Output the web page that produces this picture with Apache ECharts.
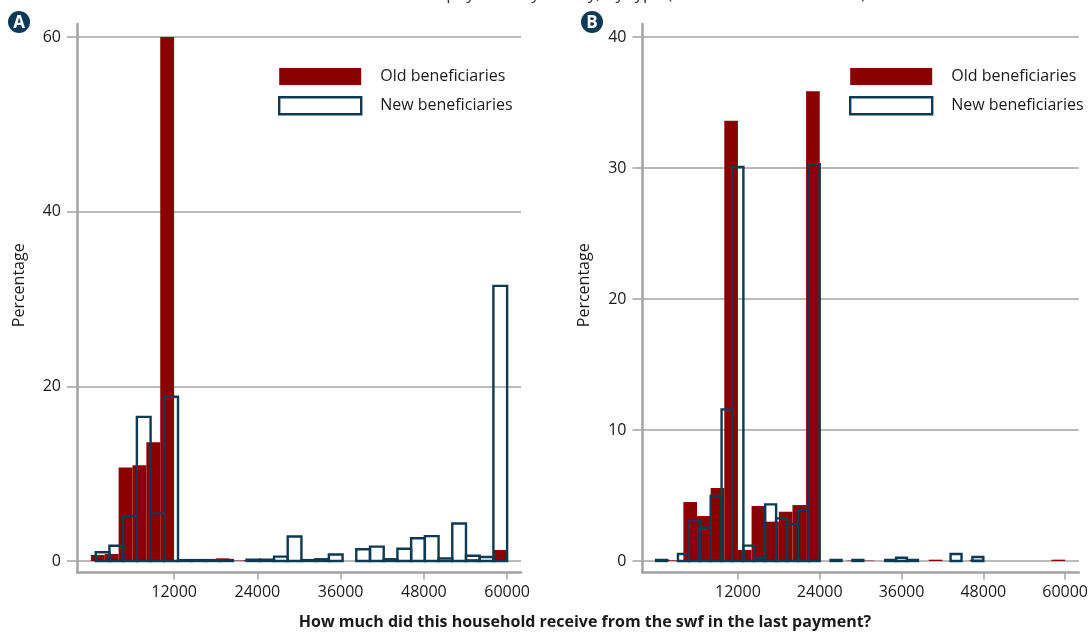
<!DOCTYPE html>
<html><head><meta charset="utf-8">
<script src="https://cdn.jsdelivr.net/npm/echarts@6/dist/echarts.min.js"></script>
<style>html,body{margin:0;padding:0;background:#fff}#c{width:1091px;height:632px}</style>
</head><body><div id="c"></div>
<script>
// ---------- data ----------
const seriesNames = ['Old beneficiaries', 'New beneficiaries'];
const panelLabels = ['A', 'B'];
const xTickValues = [12000, 24000, 36000, 48000, 60000];
const yTicksA = [0, 20, 40, 60];
const yTicksB = [0, 10, 20, 30, 40];
const xAxisTitle = 'How much did this household receive from the swf in the last payment?';
const yAxisTitle = 'Percentage';
const topTitle = 'Amount received in the last payment by survey, by type (old vs new beneficiaries)';

// histogram bins (start value, bin width) for each distribution
const oldBinsA = [0, 2000];
const newBinsA = [700, 1976.67];
const oldBinsB = [0, 2000];
const newBinsB = [0, 1600];

// bin heights (percentage)
const oldA = [0.7, 0.8, 10.7, 10.96, 13.6, 60, 0.05, 0.05, 0.05, 0.3, 0.05, 0.1, 0, 0, 0, 0, 0, 0, 0, 0, 0, 0, 0, 0, 0, 0, 0, 0.2, 0, 1.26];
const newA = [1.0, 1.75, 5.15, 16.5, 5.45, 18.8, 0.1, 0.1, 0.1, 0.1, 0, 0.15, 0.15, 0.5, 2.8, 0.1, 0.2, 0.75, 0, 1.35, 1.65, 0.2, 1.4, 2.6, 2.85, 0.3, 4.3, 0.6, 0.45, 31.5];
const oldB = [0.1, 0.05, 4.5, 3.43, 5.57, 33.6, 0.84, 4.2, 3.0, 3.76, 4.27, 35.85, 0, 0, 0.03, 0.03, 0, 0, 0, 0, 0.1, 0, 0, 0.1, 0, 0, 0, 0, 0, 0.1];
const newB = [0.08, 0, 0.53, 3.05, 2.54, 4.96, 11.57, 30.08, 1.17, 0.25, 4.32, 3.25, 2.82, 3.89, 30.28, 0, 0.08, 0, 0.08, 0, 0, 0.08, 0.25, 0.08, 0, 0, 0, 0.53, 0, 0.3];

// ---------- styles ----------
const FONT = '"Open Sans", "Noto Sans", sans-serif';
const RED = '#8b0000';
const NAVY = '#0f3a52';
const GRIDC = '#a3a3a3';
const TXT = '#1a1a1a';

function binData(bins, values) {
  const out = [];
  values.forEach((v, i) => {
    if (v > 0) out.push([bins[0] + i * bins[1], bins[0] + (i + 1) * bins[1], v]);
  });
  return out;
}

function histSeries(name, idx, bins, values, outline) {
  return {
    type: 'custom', name: name, xAxisIndex: idx, yAxisIndex: idx,
    data: binData(bins, values),
    encode: { x: [0, 1], y: 2 },
    z: outline ? 3 : 2,
    itemStyle: outline ? { color: '#ffffff', borderColor: NAVY, borderWidth: 2.4 } : { color: RED },
    renderItem: function (params, api) {
      const p0 = api.coord([api.value(0), api.value(2)]);
      const p1 = api.coord([api.value(1), 0]);
      return {
        type: 'rect',
        shape: { x: p0[0], y: p0[1], width: p1[0] - p0[0], height: p1[1] - p0[1] },
        style: outline ? { fill: 'none', stroke: NAVY, lineWidth: 2.4 } : { fill: RED }
      };
    }
  };
}

function xAxisCfg(idx) {
  return {
    gridIndex: idx, type: 'value', min: -2000, max: 62000,
    axisLine: { show: true, onZero: false, lineStyle: { color: GRIDC, width: 2.5 } },
    axisTick: { show: true, customValues: xTickValues, length: 7, lineStyle: { color: GRIDC, width: 1.5 } },
    axisLabel: { customValues: xTickValues, margin: 12, fontSize: 16, color: TXT, fontFamily: FONT,
      formatter: function (v) { return String(v); } },
    splitLine: { show: false }
  };
}
function yAxisCfg(idx, min, max, ticks) {
  return {
    gridIndex: idx, type: 'value', min: min, max: max,
    axisLine: { show: true, onZero: false, lineStyle: { color: GRIDC, width: 2.5 } },
    axisTick: { show: true, customValues: ticks, length: 10, lineStyle: { color: GRIDC, width: 1.5 } },
    axisLabel: { customValues: ticks, margin: 16, fontSize: 16, color: TXT, fontFamily: FONT },
    splitLine: { show: true, lineStyle: { color: GRIDC, width: 1.5 } },
    name: yAxisTitle, nameLocation: 'middle', nameGap: 50, nameRotate: 90,
    nameTextStyle: { fontSize: 16, color: TXT, fontFamily: FONT, padding: [0, 0, 0, 26] }
  };
}
function legendCfg(left) {
  return {
    orient: 'vertical', left: left, top: 68, padding: 0,
    itemWidth: 82, itemHeight: 17, itemGap: 11,
    selectedMode: false,
    textStyle: { fontSize: 16, color: TXT, fontFamily: FONT, padding: [5, 0, 0, 14] },
    data: [
      { name: seriesNames[0], icon: 'rect', itemStyle: { color: RED, borderWidth: 0 } },
      { name: seriesNames[1], icon: 'rect', itemStyle: { color: '#ffffff', borderColor: NAVY, borderWidth: 2.4 } }
    ]
  };
}
function badge(label, cx, cy) {
  return {
    type: 'group', children: [
      { type: 'circle', shape: { cx: cx, cy: cy, r: 11 }, style: { fill: '#0d3b55' } },
      { type: 'text', style: { text: label, x: cx, y: cy + 1, align: 'center', verticalAlign: 'middle', fill: '#ffffff', font: 'bold 17px ' + FONT } }
    ]
  };
}

const chart = echarts.init(document.getElementById('c'), null, { renderer: 'canvas' });
chart.setOption({
  backgroundColor: '#ffffff',
  animation: false,
  grid: [
    { left: 77, top: 24, width: 444, height: 548.5 },
    { left: 642.5, top: 24, width: 444, height: 548.5 }
  ],
  xAxis: [xAxisCfg(0), xAxisCfg(1)],
  yAxis: [yAxisCfg(0, -1.317, 61.49, yTicksA), yAxisCfg(1, -0.878, 40.99, yTicksB)],
  legend: [legendCfg(278), legendCfg(849)],
  series: [
    histSeries(seriesNames[0], 0, oldBinsA, oldA, false),
    histSeries(seriesNames[1], 0, newBinsA, newA, true),
    histSeries(seriesNames[0], 1, oldBinsB, oldB, false),
    histSeries(seriesNames[1], 1, newBinsB, newB, true)
  ],
  graphic: [
    badge(panelLabels[0], 19, 22),
    badge(panelLabels[1], 592, 22),
    { type: 'text', style: { text: xAxisTitle, x: 585, y: 622, align: 'center', verticalAlign: 'middle', fill: TXT, font: 'bold 16px ' + FONT } },
    { type: 'text', style: { text: topTitle, x: 545.5, y: 3, align: 'center', verticalAlign: 'bottom', fill: '#333', font: '17px ' + FONT } }
  ]
});
</script></body></html>
